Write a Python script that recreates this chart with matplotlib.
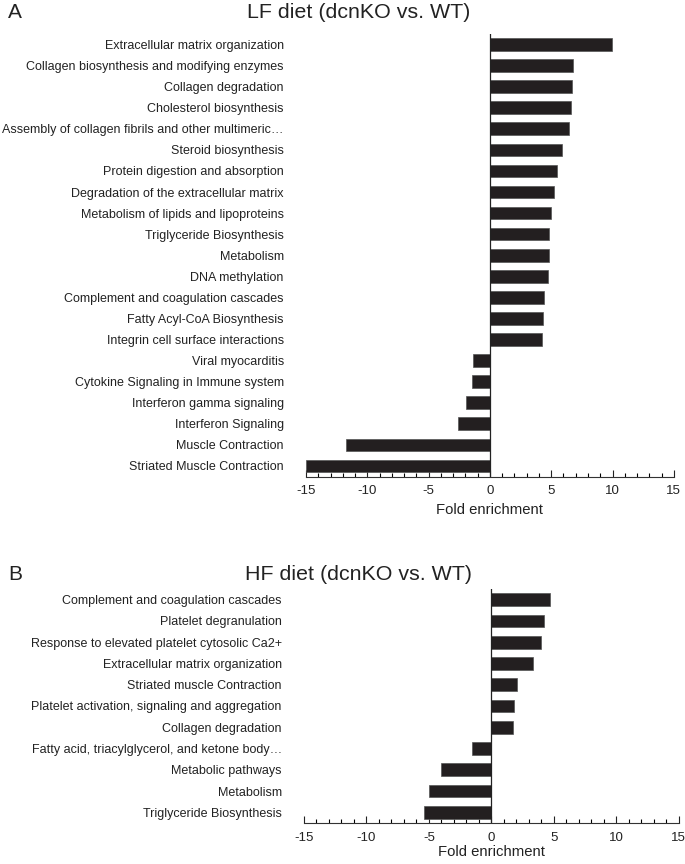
import numpy as np
import matplotlib.pyplot as plt
from matplotlib.ticker import MultipleLocator

plt.rcParams['font.family'] = ['Liberation Sans', 'DejaVu Sans']
plt.rcParams['axes.unicode_minus'] = False

# Panel A: LF diet
lf_terms = [
    "Extracellular matrix organization",
    "Collagen biosynthesis and modifying enzymes",
    "Collagen degradation",
    "Cholesterol biosynthesis",
    "Assembly of collagen fibrils and other multimeric\u2026",
    "Steroid biosynthesis",
    "Protein digestion and absorption",
    "Degradation of the extracellular matrix",
    "Metabolism of lipids and lipoproteins",
    "Triglyceride Biosynthesis",
    "Metabolism",
    "DNA methylation",
    "Complement and coagulation cascades",
    "Fatty Acyl-CoA Biosynthesis",
    "Integrin cell surface interactions",
    "Viral myocarditis",
    "Cytokine Signaling in Immune system",
    "Interferon gamma signaling",
    "Interferon Signaling",
    "Muscle Contraction",
    "Striated Muscle Contraction",
]
lf_values = [9.95, 6.77, 6.68, 6.6, 6.49, 5.9, 5.46, 5.22, 4.95, 4.84,
             4.84, 4.76, 4.43, 4.35, 4.24, -1.39, -1.49, -1.96, -2.6,
             -11.7, -15.0]

# Panel B: HF diet
hf_terms = [
    "Complement and coagulation cascades",
    "Platelet degranulation",
    "Response to elevated platelet cytosolic Ca2+",
    "Extracellular matrix organization",
    "Striated muscle Contraction",
    "Platelet activation, signaling and aggregation",
    "Collagen degradation",
    "Fatty acid, triacylglycerol, and ketone body\u2026",
    "Metabolic pathways",
    "Metabolism",
    "Triglyceride Biosynthesis",
]
hf_values = [4.71, 4.25, 4.01, 3.37, 2.09, 1.84, 1.76, -1.55, -4.04, -5.0, -5.4]

bar_color = '#231f20'
text_color = '#222222'

fig = plt.figure(figsize=(6.85, 8.64), dpi=100)


def panel(ax, terms, values, title, letter, title_y, xpad):
    y = np.arange(len(terms))
    ax.barh(y, values, height=0.6, color=bar_color, edgecolor='#555555',
            linewidth=0.5, zorder=2)
    ax.set_xlim(-15, 15)
    ax.set_ylim(len(terms) - 0.48, -0.5)
    ax.set_yticks(y)
    ax.set_yticklabels(terms, fontsize=9.0, color=text_color)
    ax.tick_params(axis='y', length=0, pad=16)
    ax.xaxis.set_major_locator(MultipleLocator(5))
    ax.xaxis.set_minor_locator(MultipleLocator(1))
    ax.tick_params(axis='x', which='major', direction='in', length=5,
                   width=0.8, labelsize=9.5, pad=6, colors=text_color)
    ax.tick_params(axis='x', which='minor', direction='in', length=3,
                   width=0.8)
    for s in ('left', 'right', 'top'):
        ax.spines[s].set_visible(False)
    ax.spines['bottom'].set_linewidth(0.8)
    ax.spines['bottom'].set_color('#333333')
    ax.axvline(0, color=text_color, linewidth=0.9, zorder=3)
    ax.set_xlabel("Fold enrichment", fontsize=10.7, labelpad=xpad,
                  color=text_color)
    fig.text(0.523, title_y, title, fontsize=15.4, ha='center', va='center',
             color=text_color)
    fig.text(0.012, title_y, letter, fontsize=15, ha='left', va='center',
             color=text_color)


ax1 = fig.add_axes([0.4467, 0.448, 0.537, 0.5127])
panel(ax1, lf_terms, lf_values, "LF diet (dcnKO vs. WT)", "A",
      1 - 13 / 864, 4)

ax2 = fig.add_axes([0.4438, 0.047, 0.547, 0.2713])
panel(ax2, hf_terms, hf_values, "HF diet (dcnKO vs. WT)", "B",
      1 - 574 / 864, 1)

fig.savefig("out.png", dpi=100)
